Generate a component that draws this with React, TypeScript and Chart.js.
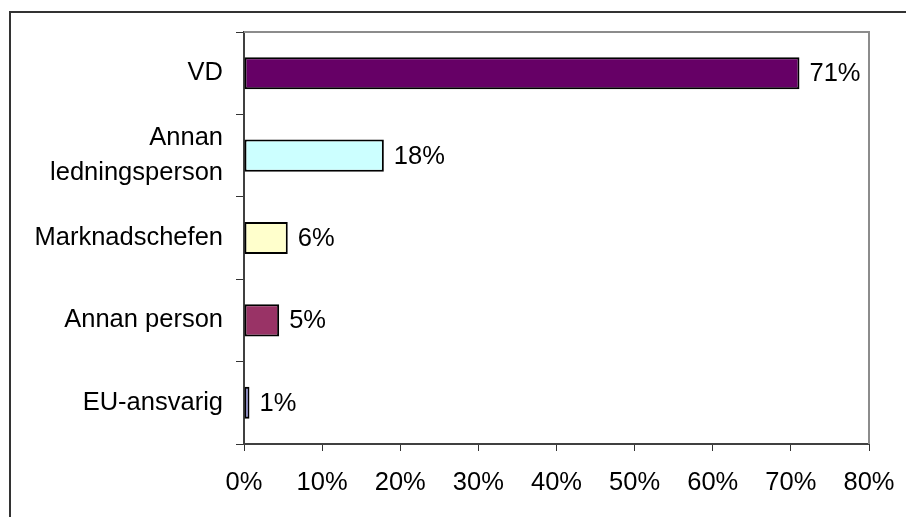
import React, { useEffect, useRef } from "react";
import { Chart, registerables } from "chart.js";

Chart.register(...registerables);

const categories: (string | string[])[] = [
  "VD",
  ["Annan", "ledningsperson"],
  "Marknadschefen",
  "Annan person",
  "EU-ansvarig",
];
const values = [71.1, 17.9, 5.6, 4.5, 0.7];
const valueLabels = ["71%", "18%", "6%", "5%", "1%"];
const barColors = ["#660066", "#CCFFFF", "#FFFFCC", "#993366", "#9999FF"];
const xTicks = [0, 10, 20, 30, 40, 50, 60, 70, 80];

const FONT = "'Liberation Sans', Arial, sans-serif";

const plotBorder = {
  id: "plotBorder",
  beforeDatasetsDraw(chart: any) {
    const { ctx, chartArea } = chart;
    ctx.save();
    ctx.strokeStyle = "#8c8c8c";
    ctx.lineWidth = 2;
    ctx.beginPath();
    ctx.moveTo(chartArea.left, chartArea.top);
    ctx.lineTo(chartArea.right, chartArea.top);
    ctx.lineTo(chartArea.right, chartArea.bottom);
    ctx.stroke();
    ctx.restore();
  },
};

const valueLabelPlugin = {
  id: "valueLabels",
  afterDatasetsDraw(chart: any) {
    const { ctx } = chart;
    const meta = chart.getDatasetMeta(0);
    ctx.save();
    ctx.font = `25.5px ${FONT}`;
    ctx.fillStyle = "#000";
    ctx.textAlign = "left";
    ctx.textBaseline = "middle";
    meta.data.forEach((el: any, i: number) => {
      ctx.fillText(valueLabels[i], el.x + 10, el.y + 1);
    });
    ctx.restore();
  },
};

export default function App() {
  const ref = useRef<HTMLCanvasElement>(null);
  useEffect(() => {
    if (!ref.current) return;
    const chart = new Chart(ref.current, {
      type: "bar",
      data: {
        labels: categories,
        datasets: [
          {
            data: values,
            backgroundColor: barColors,
            borderColor: "#000",
            borderWidth: 2,
            borderSkipped: false,
            barPercentage: 0.39,
            categoryPercentage: 1,
          },
        ],
      },
      options: {
        indexAxis: "y",
        animation: false,
        responsive: false,
        layout: { padding: { left: 0, top: 32, right: 37, bottom: 0 } },
        plugins: {
          legend: { display: false },
          tooltip: { enabled: false },
        },
        scales: {
          x: {
            min: 0,
            max: 80,
            afterBuildTicks: (scale: any) => {
              scale.ticks = xTicks.map((v) => ({ value: v }));
            },
            afterFit: (scale: any) => {
              scale.height = 73;
              scale.paddingLeft = 0;
              scale.paddingRight = 0;
            },
            ticks: {
              color: "#000",
              font: { family: FONT, size: 25.5 },
              padding: 17,
              maxRotation: 0,
              autoSkip: false,
              callback: (v: any) => `${v}%`,
            },
            grid: {
              drawOnChartArea: false,
              drawTicks: true,
              tickLength: 7,
              color: "#333",
              lineWidth: 1,
            },
            border: { display: true, color: "#404040", width: 2 },
          },
          y: {
            afterFit: (scale: any) => {
              scale.width = 244;
              scale.paddingTop = 0;
              scale.paddingBottom = 0;
            },
            ticks: {
              color: "#000",
              font: { family: FONT, size: 25.5, lineHeight: 1.35 },
              padding: 13,
              autoSkip: false,
            },
            grid: {
              offset: true,
              drawOnChartArea: false,
              drawTicks: true,
              tickLength: 8,
              color: "#333",
              lineWidth: 1,
            },
            border: { display: true, color: "#404040", width: 2 },
          },
        },
      },
      plugins: [plotBorder, valueLabelPlugin],
    });
    return () => chart.destroy();
  }, []);

  return (
    <div style={{ position: "absolute", left: 0, top: 0, width: 906, height: 517, overflow: "hidden", background: "#fff" }}>
      <div
        style={{
          position: "absolute",
          left: 9,
          top: 11,
          width: 920,
          height: 540,
          borderLeft: "2px solid #333",
          borderTop: "2px solid #333",
        }}
      />
      <canvas ref={ref} width={906} height={517} style={{ position: "absolute", left: 0, top: 0, width: 906, height: 517 }} />
    </div>
  );
}
